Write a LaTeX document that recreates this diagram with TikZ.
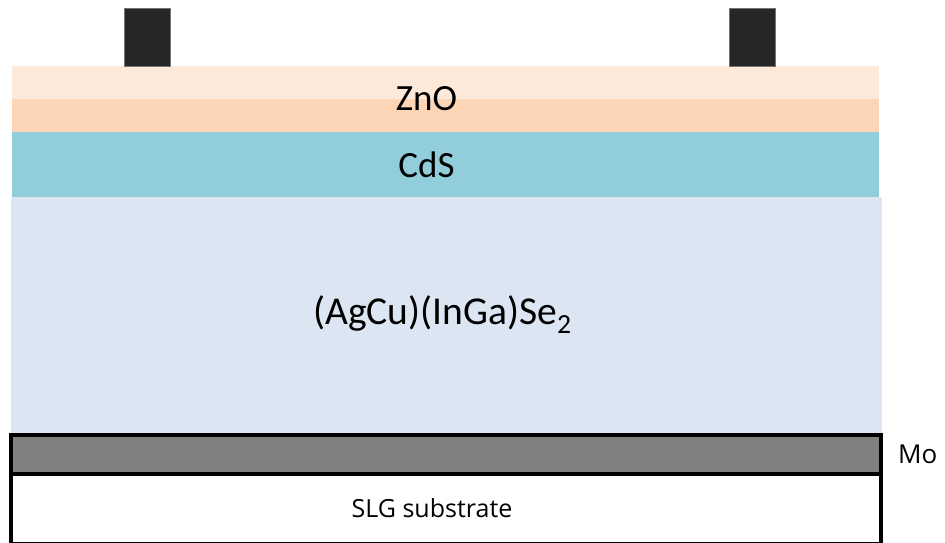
\documentclass[tikz,border=0pt]{standalone}
\usepackage{fontspec}
\setmainfont{Carlito}
\newfontfamily\uifont{Open Sans}
\usetikzlibrary{positioning}
\definecolor{znotop}{HTML}{FDE9D9}
\definecolor{znolow}{HTML}{FBD5B5}
\definecolor{cdsblue}{HTML}{92CDDC}
\definecolor{cigsblue}{HTML}{DCE6F2}
\definecolor{mogrey}{HTML}{808080}
\definecolor{contact}{HTML}{262626}
\tikzset{
  layer/.style   ={rectangle, anchor=north west, inner sep=0pt, outer sep=0pt,
                   minimum width=867pt, align=center,
                   font=\fontsize{37}{42}\selectfont},
  framed/.style  ={layer, draw=black, line width=3.5pt, minimum width=870pt,
                   font=\uifont\fontsize{25}{30}\selectfont},
  cont/.style    ={rectangle, anchor=north west, inner sep=0pt, outer sep=0pt,
                   fill=contact, draw=black!55, line width=0.8pt,
                   minimum width=46pt, minimum height=58pt},
  sidelbl/.style ={anchor=west, inner sep=0pt, font=\uifont\fontsize{26}{30}\selectfont}
}
\begin{document}
\begin{tikzpicture}[x=1pt,y=-1pt]
  \useasboundingbox (0,0) rectangle (945,542);

  % window layer and buffer
  \node[layer,fill=znolow,minimum height=66pt,
        path picture={\fill[znotop] (path picture bounding box.north west)
                      rectangle (path picture bounding box.east);}]
        (zno) at (12,66) {\hspace*{-38pt}ZnO};
  \node[layer,fill=cdsblue,minimum height=65pt] (cds) at (12,132) {\hspace*{-38pt}CdS};
  \node[layer,fill=cigsblue,minimum height=236pt,minimum width=871pt,
        font=\fontsize{39.5}{44}\selectfont]
        (cigs) at (11,197) {\hspace*{-8pt}\raisebox{10pt}{(AgCu)(InGa)Se\textsubscript{2}}};

  % back contact and glass
  \node[framed,fill=mogrey,minimum height=39pt] (mo) at (11,435) {};
  \node[framed,fill=white,minimum height=69.5pt] (slg) at (11,474)
        {\hspace*{-28pt}\raisebox{2pt}{SLG substrate}};
  \node[sidelbl,right=17pt of mo] (molbl) {Mo};

  % front grid
  \node[cont] (grid1) at (124.5,8) {};
  \node[cont] (grid2) at (729.5,8) {};
\end{tikzpicture}
\end{document}
